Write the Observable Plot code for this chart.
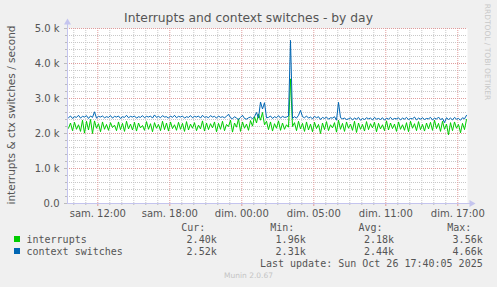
<!DOCTYPE html>
<html><head><meta charset="utf-8">
<script src="https://cdn.jsdelivr.net/npm/d3@7"></script>
<script src="https://cdn.jsdelivr.net/npm/@observablehq/plot@0.6"></script>
<style>
body{margin:0;background:#f0f0f0;width:497px;height:287px;overflow:hidden;font-family:"DejaVu Sans",sans-serif}
#wrap{position:relative;width:497px;height:287px}
#wrap svg{position:absolute;left:0;top:0}
.t{position:absolute;white-space:pre;color:#555;line-height:1}
.m{font-family:"DejaVu Sans Mono",monospace;font-size:10px;color:#555}
</style></head><body><div id="wrap"></div>
<script>
// ---- data (per 10-minute sample) ----
const interrupts = [
2150,2300,2080,2320,2120,2250,2060,2380,2010,2350,2100,2400,2000,2360,2150,2280,2050,2330,2120,2260,
2090,2310,2170,2240,2080,2330,2110,2290,2060,2350,2130,2270,2100,2320,2070,2300,2160,2230,2090,2340,
2120,2280,2050,2310,2150,2260,2080,2350,2110,2300,2070,2330,2140,2250,2090,2320,2120,2290,2060,2340,
2100,2270,2150,2310,2080,2240,2130,2360,2070,2300,2110,2280,2160,2330,2050,2290,2120,2350,2080,2260,
2200,2380,2040,2300,2180,2420,2060,2330,2150,2270,2090,2370,2210,2480,2300,2560,2380,2600,2250,2350,
2110,2330,2070,2280,2150,2360,2090,2300,2120,2250,2180,3560,2200,2310,2080,2350,2130,2290,2060,2330,
2100,2270,2050,2320,2140,2260,2000,2300,2110,2340,2080,2250,2160,2310,2040,2380,2120,2290,2060,2330,
2150,2270,2090,2350,2030,2300,2120,2260,2070,2340,2110,2280,2160,2320,2050,2290,2130,2250,2080,2360,
2100,2300,2140,2270,2060,2330,2120,2250,2090,2310,2050,2350,2150,2280,2080,2340,2110,2260,2070,2300,
2130,2320,2090,2380,2140,2290,2060,2350,2120,2270,1960,2310,2080,2330,2150,2260,2020,2290,2110,2400];
const contextSwitches = [
2450,2500,2430,2480,2460,2520,2440,2490,2470,2510,2430,2500,2460,2620,2440,2490,2470,2500,2450,2480,
2460,2510,2440,2490,2470,2500,2430,2480,2460,2520,2450,2490,2470,2500,2440,2480,2460,2510,2450,2490,
2470,2500,2440,2530,2460,2490,2450,2510,2470,2480,2440,2500,2460,2520,2450,2490,2470,2500,2440,2480,
2460,2510,2450,2490,2470,2500,2440,2520,2460,2480,2450,2510,2470,2490,2440,2500,2460,2480,2450,2490,
2550,2450,2420,2480,2440,2400,2460,2520,2430,2410,2450,2470,2420,2480,2600,2440,2900,2700,2880,2450,
2460,2500,2430,2480,2450,2510,2440,2490,2460,2470,2500,4660,2430,2480,2440,2520,2660,2480,2450,2500,
2440,2470,2420,2490,2450,2480,2400,2460,2430,2470,2410,2450,2440,2480,2380,2890,2450,2420,2440,2400,
2420,2450,2390,2440,2410,2460,2380,2430,2400,2450,2420,2440,2390,2460,2410,2430,2400,2450,2380,2440,
2410,2460,2400,2430,2420,2450,2390,2440,2410,2460,2400,2430,2420,2470,2390,2440,2410,2450,2400,2430,
2420,2460,2390,2440,2410,2470,2400,2430,2310,2450,2400,2440,2390,2460,2410,2430,2380,2450,2420,2520];
// time axis in hours since Saturday 00:00 (real elapsed time; DST ends at night)
const xTickHours = [12, 18, 24, 30, 36, 42];
const xTickLabels = ["sam. 12:00", "sam. 18:00", "dim. 00:00", "dim. 05:00", "dim. 11:00", "dim. 17:00"];
const yTicks = [0, 1000, 2000, 3000, 4000, 5000];
const yTickLabels = ["0.0", "1.0 k", "2.0 k", "3.0 k", "4.0 k", "5.0 k"];
const seriesNames = ["interrupts", "context switches"];
const seriesColors = ["#00cc00", "#0066b3"];
const stats = {
  cur: ["2.40k", "2.52k"], min: ["1.96k", "2.31k"], avg: ["2.18k", "2.44k"], max: ["3.56k", "4.66k"]
};
const startHour = 9.475, spanHours = 400 / 12, stepHours = 1 / 6;

// ---- build ----
const rows = [];
[interrupts, contextSwitches].forEach((arr, s) => arr.forEach((v, i) =>
  rows.push({series: seriesNames[s], t: startHour + (i + 0.5) * stepHours, v})));
const endHour = startHour + spanHours;
const minorX = d3.range(Math.ceil(startHour), endHour, 1).filter(h => !xTickHours.includes(h));
const minorY = d3.range(200, 5000, 200).filter(v => v % 1000 !== 0);
const axisCol = "#c4c4ee";

const plot = Plot.plot({
  width: 497, height: 287,
  marginTop: 28, marginBottom: 84, marginLeft: 67, marginRight: 30,
  style: {background: "transparent", fontFamily: "DejaVu Sans, sans-serif", fontSize: "10px", color: "#555"},
  x: {type: "linear", domain: [startHour, endHour]},
  y: {type: "linear", domain: [0, 5000]},
  color: {domain: seriesNames, range: seriesColors},
  marks: [
    Plot.frame({fill: "white", stroke: null}),
    Plot.ruleX(minorX, {stroke: "#c8c8c8", strokeDasharray: "1,1"}),
    Plot.ruleY(minorY, {stroke: "#c8c8c8", strokeDasharray: "1,1"}),
    Plot.ruleX(xTickHours, {stroke: "#e09c9c", strokeDasharray: "1,1"}),
    Plot.ruleY(yTicks.slice(1), {stroke: "#e09c9c", strokeDasharray: "1,1"}),
    Plot.line(rows, {x: "t", y: "v", z: "series", stroke: "series", strokeWidth: 1, curve: "linear"}),
    Plot.axisX({ticks: minorX, tickFormat: () => "", tickSize: 2, stroke: "#bbb"}),
    Plot.axisX({ticks: xTickHours, tickFormat: (d, i) => xTickLabels[i], tickSize: 3, stroke: "#e09c9c", tickPadding: 3, fill: "#555", fontSize: 10}),
    Plot.axisY({ticks: minorY, tickFormat: () => "", tickSize: 2, stroke: "#bbb"}),
    Plot.axisY({ticks: yTicks, tickFormat: (d, i) => yTickLabels[i], tickSize: 3, stroke: "#bbb", tickPadding: 5, fill: "#555", fontSize: 10}),
    Plot.ruleX([startHour], {stroke: axisCol, y1: 0, y2: 5150}),
    Plot.ruleY([0], {stroke: axisCol, x1: startHour, x2: endHour + 0.3}),
    Plot.dot([{x: startHour, y: 5000}], {x: "x", y: "y", symbol: "triangle", r: 2.6, fill: axisCol, stroke: null, dy: -6}),
    Plot.dot([{x: endHour, y: 0}], {x: "x", y: "y", symbol: "triangle", r: 2.6, fill: axisCol, stroke: null, dx: 4, rotate: 90})
  ]
});
const wrap = document.getElementById("wrap");
wrap.appendChild(plot);

function addText(txt, css, cls) {
  const d = document.createElement("div");
  d.className = "t" + (cls ? " " + cls : "");
  d.textContent = txt;
  Object.assign(d.style, css);
  wrap.appendChild(d);
  return d;
}
addText("Interrupts and context switches - by day", {left: "0", width: "497px", textAlign: "center", top: "12px", fontSize: "12.3px"});
addText("interrupts & ctx switches / second", {left: "11px", top: "115px", fontSize: "10.5px", transform: "translate(-50%,-50%) rotate(-90deg)"});
addText("RRDTOOL / TOBI OETIKER", {left: "487px", top: "52px", fontSize: "7.5px", color: "#c8c8c8", transform: "translate(-50%,-50%) rotate(90deg)"});
// legend
const colRight = [216.7, 305.7, 394, 482.7];
const heads = ["Cur:", "Min:", "Avg:", "Max:"];
const keys = ["cur", "min", "avg", "max"];
heads.forEach((h, k) => addText(h, {left: (colRight[k] - 35.5) + "px", top: "222.5px"}, "m"));
seriesNames.forEach((name, s) => {
  const y = 234.5 + s * 12.3;
  const sw = document.createElement("div");
  Object.assign(sw.style, {position: "absolute", left: "14px", top: (y + 1.5) + "px", width: "6px", height: "6px", background: seriesColors[s]});
  wrap.appendChild(sw);
  addText(name, {left: "26.5px", top: y + "px"}, "m");
  keys.forEach((k, c) => addText(stats[k][s], {right: (497 - colRight[c]) + "px", top: y + "px"}, "m"));
});
addText("Last update: Sun Oct 26 17:40:05 2025", {right: (497 - 482.7) + "px", top: "259px"}, "m");
addText("Munin 2.0.67", {left: "0", width: "497px", textAlign: "center", top: "272px", fontSize: "7.5px", color: "#c4c4c4"});
</script></body></html>
